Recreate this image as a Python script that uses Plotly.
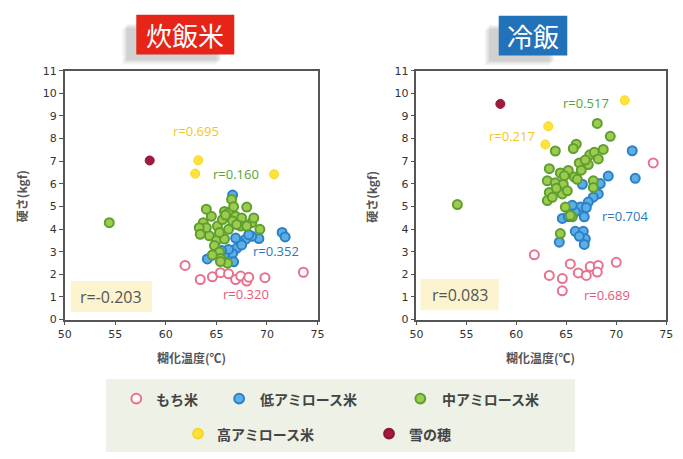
import plotly.graph_objects as go

W, H = 683, 459

# ---- data: 炊飯米 (cooked rice) ----
cook_mochi_x = [61.9, 63.4, 64.6, 65.4, 66.2, 66.9, 67.4, 68.0, 68.2, 69.8, 73.6]
cook_mochi_y = [2.39, 1.77, 1.89, 2.07, 2.02, 1.77, 1.92, 1.70, 1.87, 1.85, 2.09]

cook_low_x = [66.6, 71.5, 71.8, 69.2, 68.5, 67.9, 67.3, 67.0, 66.6, 66.7, 64.1,
              65.8, 66.2, 68.2, 67.5, 65.5, 66.9, 64.6]
cook_low_y = [5.50, 3.85, 3.65, 3.58, 3.68, 3.55, 3.40, 3.15, 2.92, 2.55, 2.68,
              2.88, 3.10, 3.75, 3.30, 3.05, 3.60, 2.85]

cook_mid_x = [54.4, 66.5, 68.0, 63.7, 63.7, 64.5, 65.8, 66.2, 66.9, 67.5, 68.5,
              69.3, 65.1, 64.3, 65.0, 64.8, 65.3, 65.4, 66.1, 64.6, 65.8, 66.2,
              67.4, 68.0, 65.6, 66.6, 64.0, 66.7, 65.3, 64.0, 65.4, 63.3, 63.4,
              68.7, 67.0, 65.9]
cook_mid_y = [4.28, 5.31, 4.97, 4.28, 3.92, 4.56, 4.78, 4.71, 4.56, 4.49, 4.28,
              3.99, 4.13, 3.70, 3.49, 3.27, 2.99, 2.70, 2.49, 2.85, 3.56, 3.99,
              4.13, 4.13, 4.42, 4.35, 4.06, 4.99, 3.85, 4.88, 2.56, 4.06, 3.77,
              4.49, 4.20, 4.62]

cook_high_x = [63.2, 62.9, 70.7]
cook_high_y = [7.04, 6.45, 6.42]

cook_yuki_x = [58.4]
cook_yuki_y = [7.03]

# ---- data: 冷飯 (cold rice) ----
cold_mochi_x = [73.7, 61.8, 63.3, 64.6, 64.6, 65.4, 66.2, 67.0, 67.4, 68.2, 68.1, 70.0]
cold_mochi_y = [6.92, 2.86, 1.95, 1.81, 1.27, 2.46, 2.06, 1.95, 2.34, 2.39, 2.10, 2.53]

cold_low_x = [71.6, 71.9, 69.2, 68.4, 68.2, 67.7, 67.2, 66.6, 66.4, 65.9, 66.8,
              64.6, 65.2, 65.9, 66.7, 66.9, 66.8, 64.3, 66.3, 67.0, 65.6]
cold_low_y = [7.46, 6.24, 6.34, 6.01, 5.55, 5.41, 5.19, 5.98, 4.97, 4.76, 4.54,
              4.47, 4.55, 3.90, 3.90, 3.57, 3.32, 3.42, 3.68, 4.95, 5.05]

cold_mid_x = [54.1, 68.1, 69.4, 63.9, 68.7, 66.0, 65.7, 63.3, 64.4, 65.2, 66.3,
              67.2, 67.35, 67.8, 63.1, 63.9, 64.7, 63.3, 63.1, 64.6, 64.9, 65.6,
              64.4, 67.7, 67.7, 65.1, 66.5, 66.9, 64.0, 65.8, 68.2, 66.1, 64.8,
              63.6, 65.4]
cold_mid_y = [5.08, 8.67, 8.10, 7.45, 7.52, 7.75, 7.56, 6.67, 6.48, 6.59, 6.92,
              6.85, 7.28, 7.39, 6.13, 6.05, 5.98, 5.62, 5.26, 5.55, 4.97, 4.54,
              3.80, 6.13, 5.84, 5.69, 6.60, 7.05, 5.80, 6.30, 7.10, 6.20, 6.35,
              5.40, 4.60]

cold_high_x = [70.85, 63.2, 62.9]
cold_high_y = [9.69, 8.54, 7.74]

cold_yuki_x = [58.4]
cold_yuki_y = [9.53]

# correlation labels
cook_r = {"high": "r=0.695", "mid": "r=0.160", "low": "r=0.352", "mochi": "r=0.320", "all": "r=-0.203"}
cold_r = {"high": "r=0.217", "mid": "r=0.517", "low": "r=0.704", "mochi": "r=0.689", "all": "r=0.083"}

series_names = ["もち米", "低アミロース米", "中アミロース米", "高アミロース米", "雪の穂"]

# ---- styles ----
STY = {
    "mochi": dict(color="white", line=dict(color="#e8728e", width=2)),
    "low": dict(color="#5caee6", line=dict(color="#2c80c6", width=2)),
    "mid": dict(color="#9ccb4e", line=dict(color="#5e9f30", width=2)),
    "high": dict(color="#ffe23a", line=dict(color="#f7d527", width=1)),
    "yuki": dict(color="#a31a3e", line=dict(color="#8e1434", width=1)),
}
TXT = {"mochi": "#e4587a", "low": "#2e78be", "mid": "#55a533", "high": "#f2c61c"}


def px(x):
    return x / W


def py(y):
    return 1 - y / H


fig = go.Figure()

panels = [
    ("x", "y", [(cook_mochi_x, cook_mochi_y, "mochi"), (cook_low_x, cook_low_y, "low"),
                (cook_mid_x, cook_mid_y, "mid"), (cook_high_x, cook_high_y, "high"),
                (cook_yuki_x, cook_yuki_y, "yuki")]),
    ("x2", "y2", [(cold_mochi_x, cold_mochi_y, "mochi"), (cold_low_x, cold_low_y, "low"),
                  (cold_mid_x, cold_mid_y, "mid"), (cold_high_x, cold_high_y, "high"),
                  (cold_yuki_x, cold_yuki_y, "yuki")]),
]
for xa, ya, groups in panels:
    for (xs, ys, key), name in zip(groups, series_names):
        fig.add_trace(go.Scatter(
            x=xs, y=ys, mode="markers", name=name, showlegend=False,
            xaxis=xa, yaxis=ya,
            marker=dict(size=9, **STY[key]),
        ))

ydom = [0.297, 0.855]
axis_common = dict(
    showgrid=False, zeroline=False, showline=True, mirror=True,
    linecolor="#555555", linewidth=1.5, ticks="outside", ticklen=4,
    tickcolor="#555555", tickwidth=1.2,
    tickfont=dict(family="DejaVu Sans", size=11, color="#333333"),
)
fig.update_layout(
    width=W, height=H, margin=dict(l=0, r=0, t=0, b=0),
    paper_bgcolor="white", plot_bgcolor="white",
    xaxis=dict(domain=[px(59), px(317)], range=[50, 75], dtick=5, anchor="y", **axis_common),
    yaxis=dict(domain=ydom, range=[0, 11], dtick=1, anchor="x", **axis_common),
    xaxis2=dict(domain=[px(418), px(673)], range=[50, 75], dtick=5, anchor="y2", **axis_common),
    yaxis2=dict(domain=ydom, range=[0, 11], dtick=1, anchor="x2", **axis_common),
)

shapes = []
ann = []

# panel titles with soft drop shadow
def title_box(x0, x1, y0, y1, color, text):
    for dx, dy, op in [(-14, 10, 0.08), (-12, 8, 0.10), (-10, 6, 0.12)]:
        shapes.append(dict(type="rect", xref="paper", yref="paper", layer="below",
                           x0=px(x0 + dx), x1=px(x1 + dx - 4), y0=py(y1 + dy), y1=py(y0 + dy + 4),
                           fillcolor=f"rgba(90,90,90,{op})", line=dict(width=0)))
    shapes.append(dict(type="rect", xref="paper", yref="paper",
                       x0=px(x0), x1=px(x1), y0=py(y1), y1=py(y0),
                       fillcolor=color, line=dict(width=0)))
    ann.append(dict(xref="paper", yref="paper", x=px((x0 + x1) / 2), y=py((y0 + y1) / 2),
                    text=text, showarrow=False, xanchor="center", yanchor="middle",
                    font=dict(family="Noto Sans CJK JP", size=26, color="white")))

title_box(132, 232, 9, 50, "#e62418", "炊飯米")
title_box(502, 572, 10, 51, "#2272b9", "冷飯")

# axis titles
for cx in (15, 372):
    ann.append(dict(xref="paper", yref="paper", x=px(cx), y=py(196), text="<b>硬さ(kgf)</b>",
                    textangle=-90, showarrow=False, xanchor="center", yanchor="middle",
                    font=dict(family="Noto Sans CJK JP", size=12, color="#555555")))
for cx in (188, 545):
    ann.append(dict(xref="paper", yref="paper", x=px(cx), y=py(362), text="<b>糊化温度(℃)</b>",
                    showarrow=False, xanchor="center", yanchor="middle",
                    font=dict(family="Noto Sans CJK JP", size=12, color="#555555")))

# correlation labels in data coordinates
def rlab(xa, ya, x, y, text, color, size=13):
    ann.append(dict(xref=xa, yref=ya, x=x, y=y, text=text, showarrow=False,
                    xanchor="center", yanchor="middle",
                    font=dict(family="Open Sans", size=size, color=color)))

rlab("x", "y", 63.0, 8.35, cook_r["high"], TXT["high"])
rlab("x", "y", 66.9, 6.45, cook_r["mid"], TXT["mid"])
rlab("x", "y", 70.9, 3.05, cook_r["low"], TXT["low"])
rlab("x", "y", 67.9, 1.15, cook_r["mochi"], TXT["mochi"])
rlab("x2", "y2", 67.0, 9.55, cold_r["mid"], TXT["mid"])
rlab("x2", "y2", 59.6, 8.12, cold_r["high"], TXT["high"])
rlab("x2", "y2", 70.9, 4.57, cold_r["low"], TXT["low"])
rlab("x2", "y2", 69.1, 1.07, cold_r["mochi"], TXT["mochi"])

# overall correlation boxes
for (x0, x1, y0, y1, text) in [(65, 148, 283, 315, cook_r["all"]), (422, 502, 281, 313, cold_r["all"])]:
    shapes.append(dict(type="rect", xref="paper", yref="paper",
                       x0=px(x0), x1=px(x1), y0=py(y1), y1=py(y0),
                       fillcolor="#fcf4cf", line=dict(width=0)))
    ann.append(dict(xref="paper", yref="paper", x=px((x0 + x1) / 2), y=py((y0 + y1) / 2),
                    text=text, showarrow=False, xanchor="center", yanchor="middle",
                    font=dict(family="Open Sans", size=16, color="#555555")))

# legend panel
shapes.append(dict(type="rect", xref="paper", yref="paper",
                   x0=px(101), x1=px(580), y0=py(459), y1=py(384),
                   fillcolor="#eef1e5", line=dict(width=0)))
legend_items = [
    ("mochi", 132, 404, 150), ("low", 237, 404, 256), ("mid", 422, 404, 442),
    ("high", 195, 440, 212), ("yuki", 390, 440, 408),
]
for (key, cx, cy, tx), name in zip(legend_items, series_names):
    st = STY[key]
    r = 5
    shapes.append(dict(type="circle", xref="paper", yref="paper",
                       x0=px(cx - r), x1=px(cx + r), y0=py(cy + r), y1=py(cy - r),
                       fillcolor=st["color"], line=dict(color=st["line"]["color"], width=2)))
    ann.append(dict(xref="paper", yref="paper", x=px(tx), y=py(cy), text=f"<b>{name}</b>",
                    showarrow=False, xanchor="left", yanchor="middle",
                    font=dict(family="Noto Sans CJK JP", size=14, color="#444444")))

fig.update_layout(shapes=shapes, annotations=ann)
fig.write_html("out.html")
